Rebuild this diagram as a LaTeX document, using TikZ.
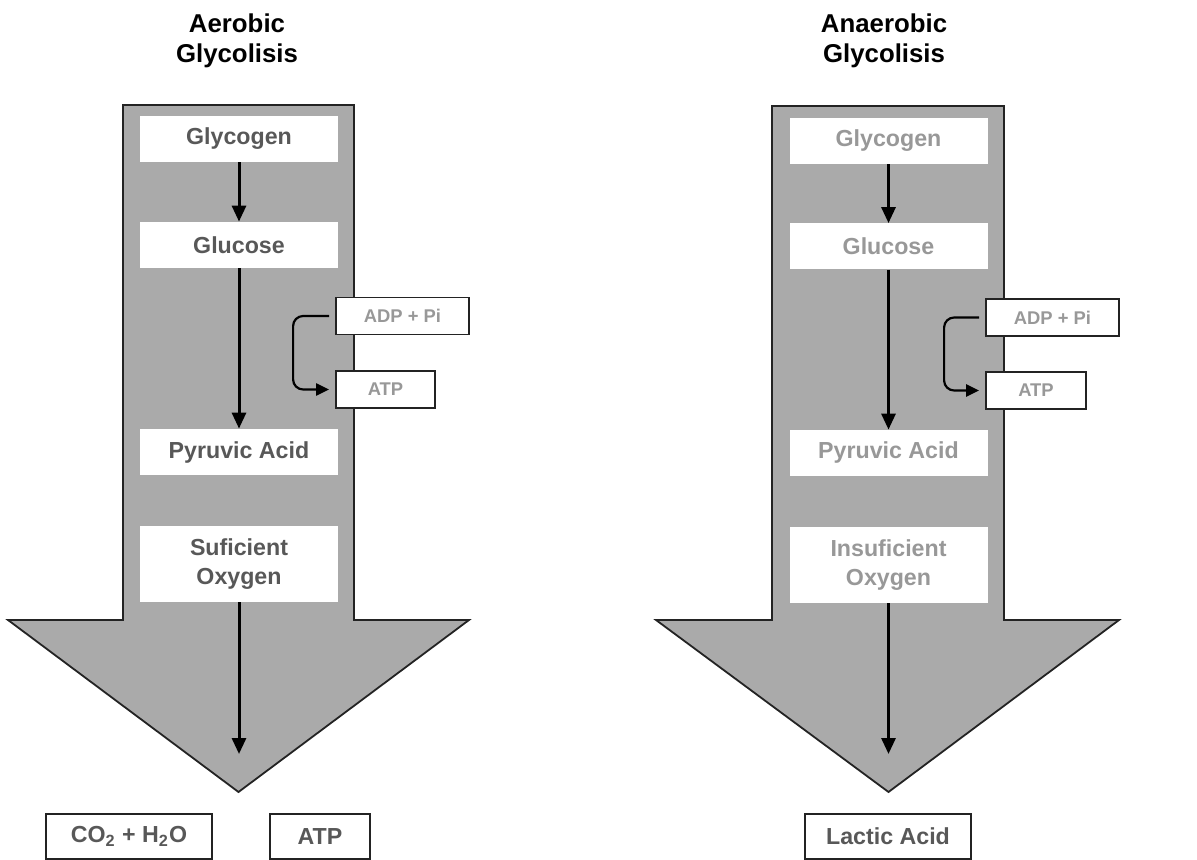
\documentclass[tikz,border=0pt]{standalone}
\usepackage{fontspec}
\setmainfont{Liberation Sans}
\usetikzlibrary{arrows.meta,calc}
\definecolor{GlyShaft}{RGB}{170,170,170}
\definecolor{GlyDark}{RGB}{88,88,88}
\definecolor{GlyPale}{RGB}{152,152,152}
\definecolor{GlyEdge}{RGB}{35,35,35}

\begin{document}
\begin{tikzpicture}[
  x=0.5pt,y=-0.5pt,
  title/.style={align=center,font=\fontsize{12.9}{15}\selectfont\bfseries},
  stage/.style={fill=white,minimum width=99pt,minimum height=23pt,inner sep=0pt,align=center,
                font=\fontsize{11.6}{14.5}\selectfont\bfseries},
  energy/.style={draw=GlyEdge,line width=0.9pt,fill=white,minimum height=18.5pt,inner sep=0pt,
                 text=GlyPale,font=\fontsize{9.2}{11}\selectfont\bfseries},
  product/.style={draw=GlyEdge,line width=0.9pt,fill=white,minimum height=22.5pt,inner sep=0pt,
                  text=GlyDark,font=\fontsize{11.6}{14}\selectfont\bfseries},
  bigarrow/.style={fill=GlyShaft,draw=GlyEdge,line width=0.9pt},
  arrow/.style={-{Triangle[length=8pt,width=7pt]},line width=1.5pt,draw=black},
  loop/.style={-{Triangle[length=6.5pt,width=6pt]},line width=1.1pt,draw=black,rounded corners=5pt,
               shorten <=3pt,shorten >=3pt}
]
\useasboundingbox (0,0) rectangle (1197,860);

% aerobic side
\node[title] (aerobicT) at (237,41) {Aerobic\\Glycolisis};
\draw[bigarrow] (123,105) -- (354,105) -- (354,620) -- (469,620) -- (238.5,792) -- (8,620) -- (123,620) -- cycle;
\node[stage,text=GlyDark] (glycogen) at (239,139) {Glycogen};
\node[stage,text=GlyDark] (glucose) at (239,245) {Glucose};
\node[stage,text=GlyDark] (pyruvic) at (239,452) {Pyruvic Acid};
\node[stage,text=GlyDark,minimum height=38pt] (oxygen) at (239,564) {Suficient\\Oxygen};
\node[energy,minimum width=66.5pt] (adp) at (402.5,316) {ADP + Pi};
\node[energy,minimum width=49.5pt] (atp) at (385.5,389.5) {ATP};
\coordinate (tipA) at (239,754);
\draw[arrow] (glycogen) -- (glucose);
\draw[arrow] (glucose) -- (pyruvic);
\draw[arrow] (oxygen) -- (tipA);
\draw[loop] (adp.west) -- ++(-42,0) |- (atp.west);
\node[product,minimum width=83pt] (water) at (129,836.5) {CO\textsubscript{2} + H\textsubscript{2}O};
\node[product,minimum width=50pt] (atpout) at (320,836.5) {ATP};

% anaerobic side
\node[title] (anaerobicT) at (884,41) {Anaerobic\\Glycolisis};
\draw[bigarrow] (772,106) -- (1004,106) -- (1004,620) -- (1119,620) -- (888.5,792) -- (656,620) -- (772,620) -- cycle;
\node[stage,text=GlyPale] (glycogen2) at (888.5,141) {Glycogen};
\node[stage,text=GlyPale] (glucose2) at (888.5,246.5) {Glucose};
\node[stage,text=GlyPale] (pyruvic2) at (888.5,453) {Pyruvic Acid};
\node[stage,text=GlyPale,minimum height=38pt] (oxygen2) at (888.5,565) {Insuficient\\Oxygen};
\node[energy,minimum width=66.5pt] (adp2) at (1052.5,317.5) {ADP + Pi};
\node[energy,minimum width=50pt] (atp2) at (1036,390.5) {ATP};
\coordinate (tipB) at (888.5,754);
\draw[arrow] (glycogen2) -- (glucose2);
\draw[arrow] (glucose2) -- (pyruvic2);
\draw[arrow] (oxygen2) -- (tipB);
\draw[loop] (adp2.west) -- ++(-41,0) |- (atp2.west);
\node[product,minimum width=83pt] (lactic) at (888,836.5) {Lactic Acid};
\end{tikzpicture}
\end{document}
